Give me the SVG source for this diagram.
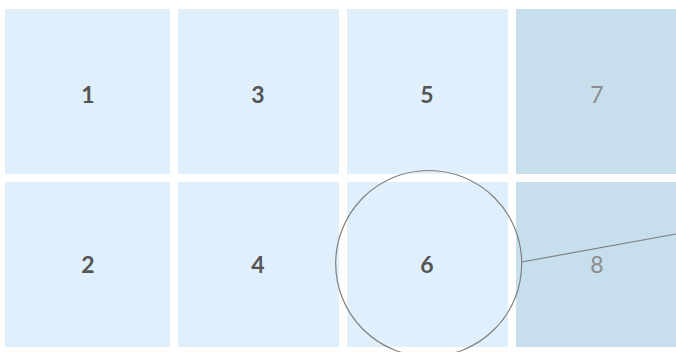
<svg xmlns="http://www.w3.org/2000/svg" width="676" height="352" viewBox="0 0 676 352">
<style>
.l{fill:#dff0fc}
.d{fill:#c7dfed}
.t{font-family:Lato,"Open Sans",sans-serif;font-size:23px;text-anchor:middle}
.b{font-weight:bold;fill:#555555}
.g{font-weight:normal;fill:#8c8c8c}
.c{fill:none;stroke:#7f7f7f;stroke-width:1.2}
</style>
<rect width="676" height="352" fill="#ffffff"/>
<g id="n1"><rect class="l" x="5" y="9" width="165" height="165"/><text class="t b" x="88" y="103">1</text></g>
<g id="n3"><rect class="l" x="178" y="9" width="161" height="165"/><text class="t b" x="258" y="103">3</text></g>
<g id="n5"><rect class="l" x="347" y="9" width="161" height="165"/><text class="t b" x="427" y="103">5</text></g>
<g id="n7"><rect class="d" x="516" y="9" width="160" height="165"/><text class="t g" x="597" y="103">7</text></g>
<g id="n2"><rect class="l" x="5" y="182" width="165" height="165"/><text class="t b" x="88" y="273">2</text></g>
<g id="n4"><rect class="l" x="178" y="182" width="161" height="165"/><text class="t b" x="258" y="273">4</text></g>
<g id="n6"><rect class="l" x="347" y="182" width="161" height="165"/><text class="t b" x="427" y="273">6</text></g>
<g id="n8"><rect class="d" x="516" y="182" width="160" height="165"/><text class="t g" x="597" y="273">8</text></g>
<g id="connectors">
<circle class="c" cx="428.7" cy="263.5" r="93"/>
<line class="c" x1="521.7" y1="262" x2="676" y2="234"/>
</g>
</svg>
